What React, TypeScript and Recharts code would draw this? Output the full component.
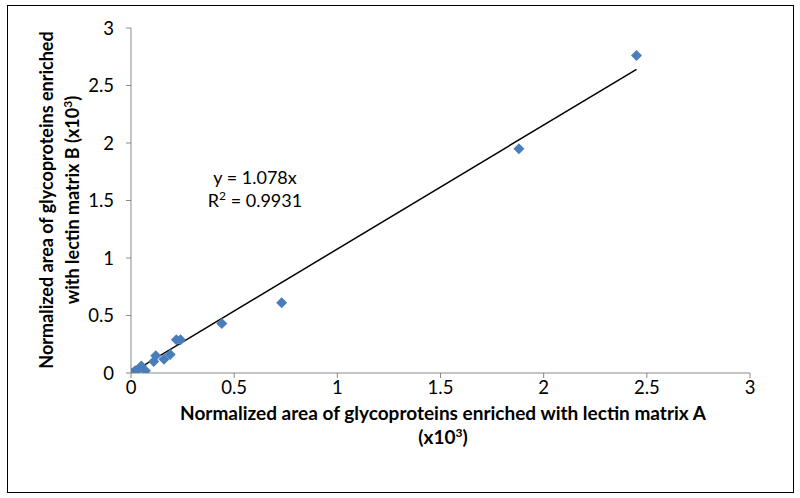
import React from "react";
import { ScatterChart, Scatter, XAxis, YAxis, Customized } from "recharts";

const matrixA = [0, 0.02, 0.04, 0.05, 0.07, 0.11, 0.12, 0.16, 0.19, 0.22, 0.24, 0.44, 0.73, 1.88, 2.45];
const matrixB = [0, 0.02, 0.04, 0.06, 0.02, 0.1, 0.15, 0.12, 0.16, 0.29, 0.29, 0.43, 0.61, 1.95, 2.76];
const slope = 1.078;
const trendX = [0, 2.45];
const xTicks = [0, 0.5, 1, 1.5, 2, 2.5, 3];
const yTicks = [0, 0.5, 1, 1.5, 2, 2.5, 3];

const points = matrixA.map((x, i) => ({ x, y: matrixB[i] }));
const trend = trendX.map((x) => ({ x, y: x * slope }));

const FONT = "Lato, 'Open Sans', sans-serif";
const AXIS = "#898989";

const Diamond = (props: any) => {
  const { cx, cy } = props;
  if (cx == null || cy == null) return <g />;
  const r = 5.5;
  return (
    <path
      d={`M${cx},${cy - r}L${cx + r},${cy}L${cx},${cy + r}L${cx - r},${cy}Z`}
      fill="#4a7ebb"
    />
  );
};

const Annotations = () => (
  <g fontFamily={FONT} fill="#000">
    <text x={255} y={184} textAnchor="middle" fontSize={18}>y = 1.078x</text>
    <text x={255} y={207} textAnchor="middle" fontSize={18}>
      R<tspan dy={-7} fontSize={12}>2</tspan>
      <tspan dy={7}> = 0.9931</tspan>
    </text>
    <text x={443} y={420} textAnchor="middle" fontSize={19} fontWeight="bold">
      Normalized area of glycoproteins enriched with lectin matrix A
    </text>
    <text x={443} y={444} textAnchor="middle" fontSize={19} fontWeight="bold">
      (x10<tspan dy={-7} fontSize={12}>3</tspan>
      <tspan dy={7}>)</tspan>
    </text>
    <g transform="translate(53,200) rotate(-90)">
      <text x={0} y={0} textAnchor="middle" fontSize={18} fontWeight="bold">
        Normalized area of glycoproteins enriched
      </text>
    </g>
    <g transform="translate(79,200) rotate(-90)">
      <text x={0} y={0} textAnchor="middle" fontSize={18} fontWeight="bold">
        with lectin matrix B (x10<tspan dy={-7} fontSize={12}>3</tspan>
        <tspan dy={7}>)</tspan>
      </text>
    </g>
  </g>
);

export default function App() {
  return (
    <div style={{ position: "absolute", left: 0, top: 0, width: 800, height: 498, background: "#fff" }}>
      <ScatterChart
        width={800}
        height={498}
        margin={{ top: 28, right: 50, bottom: 0, left: 0 }}
      >
        <XAxis
          type="number"
          dataKey="x"
          domain={[0, 3]}
          ticks={xTicks}
          allowDataOverflow
          height={125}
          stroke={AXIS}
          tickSize={5}
          tickMargin={3}
          tick={{ fill: "#000", fontSize: 18.5, fontFamily: FONT }}
          tickLine={{ stroke: AXIS }}
        />
        <YAxis
          type="number"
          dataKey="y"
          domain={[0, 3]}
          ticks={yTicks}
          allowDataOverflow
          width={131}
          stroke={AXIS}
          tickSize={5}
          tickMargin={12}
          tick={{ fill: "#000", fontSize: 18.5, fontFamily: FONT }}
          tickLine={{ stroke: AXIS }}
        />
        <Scatter
          data={trend}
          line={{ stroke: "#000", strokeWidth: 1.5 }}
          shape={() => <g />}
          isAnimationActive={false}
          legendType="none"
        />
        <Scatter data={points} shape={Diamond} isAnimationActive={false} />
        <Customized component={<Annotations />} />
      </ScatterChart>
      <div
        style={{
          position: "absolute",
          left: 7,
          top: 5,
          width: 787,
          height: 488,
          border: "1.5px solid #000",
          boxSizing: "border-box",
          pointerEvents: "none",
        }}
      />
    </div>
  );
}
